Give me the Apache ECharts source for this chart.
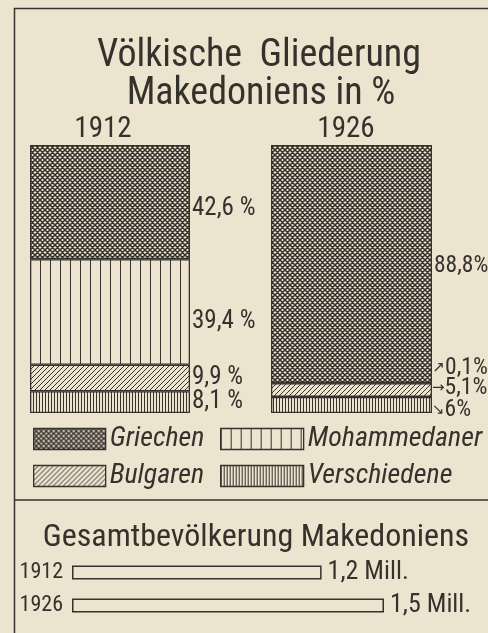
<!DOCTYPE html>
<html><head><meta charset="utf-8">
<script src="https://cdn.jsdelivr.net/npm/echarts@6/dist/echarts.min.js"></script>
<style>html,body{margin:0;padding:0;background:#ede4d0}#c{width:488px;height:633px}</style>
</head><body><div id="c"></div>
<script>
// ---- data ----
const years = ['1912', '1926'];
const groups = ['Griechen', 'Mohammedaner', 'Bulgaren', 'Verschiedene'];
const griechen = [42.6, 88.8];
const mohammedaner = [39.4, 0.1];
const bulgaren = [9.9, 5.1];
const verschiedene = [8.1, 6];
const popYears = ['1912', '1926'];
const population = [1.2, 1.5]; // Mill.

// ---- style ----
const INK = '#35312c';
const PAPER = '#ede4d0';
const FONT = "'Roboto Condensed','Noto Sans Condensed','DejaVu Sans Condensed','Liberation Sans Narrow','Arial Narrow',Roboto,sans-serif";

function pat(kind) {
  const c = document.createElement('canvas');
  const ctx = c.getContext('2d');
  let s;
  if (kind === 'cross') {
    s = 5; c.width = c.height = s;
    ctx.fillStyle = PAPER; ctx.fillRect(0, 0, s, s);
    ctx.strokeStyle = INK; ctx.lineWidth = 1.5;
    ctx.beginPath();
    for (const k of [-s, 0, s]) {
      ctx.moveTo(-s, -s + k); ctx.lineTo(2 * s, 2 * s + k);
      ctx.moveTo(-s, 2 * s + k); ctx.lineTo(2 * s, -s + k);
    }
    ctx.stroke();
  } else if (kind === 'diag') {
    s = 5; c.width = c.height = s;
    ctx.fillStyle = PAPER; ctx.fillRect(0, 0, s, s);
    ctx.strokeStyle = INK; ctx.lineWidth = 1.0;
    ctx.beginPath();
    for (const k of [-s, 0, s]) {
      ctx.moveTo(-s, 2 * s + k); ctx.lineTo(2 * s, -s + k);
    }
    ctx.stroke();
  } else if (kind === 'vwide') {
    c.width = 10; c.height = 4;
    ctx.fillStyle = PAPER; ctx.fillRect(0, 0, 10, 4);
    ctx.fillStyle = INK; ctx.fillRect(0, 0, 1, 4);
  } else {
    c.width = 3; c.height = 4;
    ctx.fillStyle = PAPER; ctx.fillRect(0, 0, 3, 4);
    ctx.fillStyle = INK; ctx.fillRect(0, 0, 1, 4);
  }
  return { image: c, repeat: 'repeat' };
}

const groupValues = [griechen, mohammedaner, bulgaren, verschiedene];
const groupFill = [pat('cross'), pat('vwide'), pat('diag'), pat('vdense')];
const fmtNum = v => String(v).replace('.', ',');

// label styling per grid/group (offsets in px)
const labelOffsets = [
  [[0, 7], [0, 10], [0, 0], [0, 0]],
  [[0, 2], [0, -15], [0, -2], [0, 5]]
];
const arrows = [['', '', '', ''], ['', '\u2197', '\u2192', '\u2198']];

const series = [];
for (let gi = groups.length - 1; gi >= 0; gi--) {
  for (let yi = 0; yi < years.length; yi++) {
    const arrow = arrows[yi][gi];
    series.push({
      type: 'bar',
      name: groups[gi],
      xAxisIndex: yi, yAxisIndex: yi,
      stack: 'y' + yi,
      barWidth: '100%',
      data: [groupValues[gi][yi]],
      itemStyle: { color: groupFill[gi], borderColor: INK, borderWidth: 1.3 },
      label: {
        show: true, position: 'right', distance: arrow ? 0 : 2,
        offset: labelOffsets[yi][gi],
        color: INK, fontFamily: FONT, fontSize: yi === 0 ? 25 : 23.5,
        formatter: p => (arrow ? '{a|' + arrow + '}' : '') + fmtNum(p.value) + (yi === 0 ? ' %' : '%'),
        rich: { a: { fontFamily: 'DejaVu Sans', fontSize: 15, color: INK } }
      },
      emphasis: { disabled: true },
      animation: false
    });
  }
}

series.push({
  type: 'bar',
  name: 'Gesamtbevölkerung',
  xAxisIndex: 2, yAxisIndex: 2,
  barWidth: 14,
  data: population,
  itemStyle: { color: PAPER, borderColor: INK, borderWidth: 1.5 },
  label: {
    show: true, position: 'right', distance: 6,
    color: INK, fontFamily: FONT, fontSize: 26,
    formatter: p => fmtNum(p.value) + ' Mill.'
  },
  emphasis: { disabled: true },
  animation: false
});

function legend(name, left, top, w) {
  return {
    data: [name], left: left, top: top, orient: 'horizontal', icon: 'rect',
    itemWidth: w, itemHeight: 21, padding: 0, selectedMode: false,
    itemStyle: { borderColor: INK, borderWidth: 1.3 },
    textStyle: { color: INK, fontFamily: FONT, fontSize: 28, fontStyle: 'italic', padding: [0, 0, 0, -1] }
  };
}

const option = {
  backgroundColor: PAPER,
  animation: false,
  title: [
    { text: 'Völkische  Gliederung', left: 254, top: 32, textAlign: 'center',
      textStyle: { color: INK, fontFamily: FONT, fontSize: 38, fontWeight: 'normal' } },
    { text: 'Makedoniens in %', left: 256, top: 70, textAlign: 'center',
      textStyle: { color: INK, fontFamily: FONT, fontSize: 38, fontWeight: 'normal' } },
    { text: 'Gesamtbevölkerung Makedoniens', left: 251, top: 517, textAlign: 'center',
      textStyle: { color: INK, fontFamily: FONT, fontSize: 32, fontWeight: 'normal' } }
  ],
  grid: [
    { left: 30, top: 145, width: 160, height: 268 },
    { left: 271, top: 145, width: 161, height: 268 },
    { left: 72, top: 556, width: 430, height: 66 }
  ],
  xAxis: [
    { type: 'category', gridIndex: 0, data: [years[0]], position: 'top',
      axisLine: { show: false }, axisTick: { show: false },
      axisLabel: { color: INK, fontFamily: FONT, fontSize: 29, margin: 1, padding: [0, 14, 0, 0] } },
    { type: 'category', gridIndex: 1, data: [years[1]], position: 'top',
      axisLine: { show: false }, axisTick: { show: false },
      axisLabel: { color: INK, fontFamily: FONT, fontSize: 29, margin: 1, padding: [0, 11, 0, 0] } },
    { type: 'value', gridIndex: 2, min: 0, max: 2, show: false }
  ],
  yAxis: [
    { type: 'value', gridIndex: 0, min: 0, max: 100, show: false },
    { type: 'value', gridIndex: 1, min: 0, max: 100, show: false },
    { type: 'category', gridIndex: 2, data: popYears, inverse: true,
      axisLine: { show: false }, axisTick: { show: false }, splitLine: { show: false },
      axisLabel: { color: INK, fontFamily: FONT, fontSize: 22, margin: 9 } }
  ],
  legend: [
    legend(groups[0], 33, 425, 72),
    legend(groups[1], 220, 425, 83),
    legend(groups[2], 33, 462, 72),
    legend(groups[3], 220, 462, 83)
  ],
  graphic: [
    { type: 'rect', silent: true, z: 100,
      shape: { x: 14.5, y: 8.5, width: 520, height: 700 },
      style: { fill: 'none', stroke: INK, lineWidth: 1.5 } },
    { type: 'line', silent: true, z: 100,
      shape: { x1: 14, y1: 500, x2: 488, y2: 500 },
      style: { stroke: INK, lineWidth: 1.5 } }
  ],
  series: series
};

const chart = echarts.init(document.getElementById('c'), null, { renderer: 'canvas' });
chart.setOption(option);
</script>
</body></html>
